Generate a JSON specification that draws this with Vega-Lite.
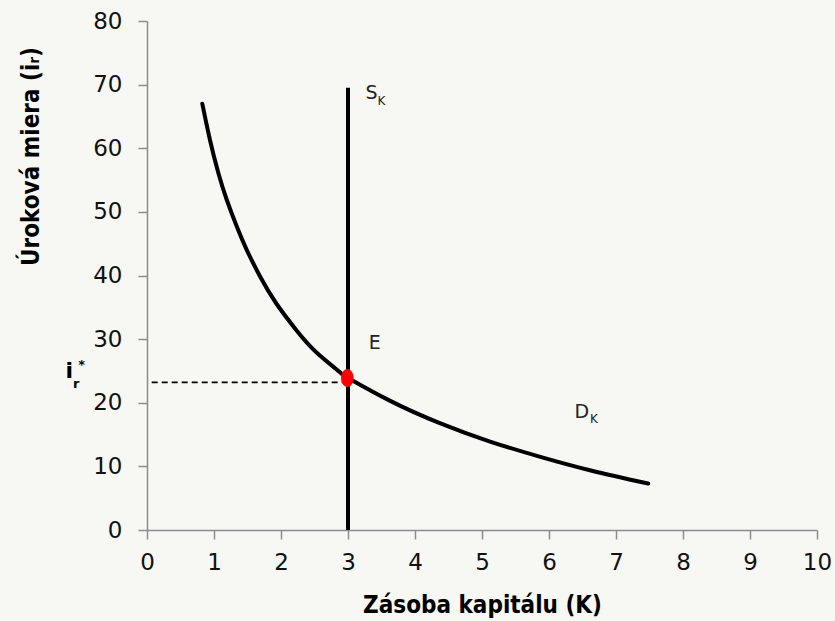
{
  "$schema": "https://vega.github.io/schema/vega-lite/v6.json",
  "width": 670,
  "height": 509,
  "autosize": {"type": "none"},
  "padding": {"left": 147, "top": 21, "right": 18, "bottom": 91},
  "background": "#F7F8F4",
  "config": {
    "view": {"stroke": null},
    "font": "DejaVu Sans",
    "axis": {
      "domainColor": "#8C8C8C",
      "domainWidth": 1.5,
      "tickColor": "#8C8C8C",
      "tickWidth": 1.5,
      "tickSize": 9,
      "grid": false,
      "labelFont": "DejaVu Sans",
      "labelFontWeight": "normal",
      "labelFontSize": 23,
      "labelColor": "#111111",
      "labelOverlap": false,
      "labelFlush": false,
      "titleFont": "DejaVu Sans Condensed",
      "titleFontWeight": "bold",
      "titleColor": "#000000"
    }
  },
  "datasets": {
    "demand": [
      {"K": 0.825, "i": 67.0},
      {"K": 0.94, "i": 61.3},
      {"K": 1.065, "i": 56.1},
      {"K": 1.19, "i": 51.9},
      {"K": 1.34, "i": 47.7},
      {"K": 1.49, "i": 44.0},
      {"K": 1.69, "i": 39.8},
      {"K": 1.93, "i": 35.6},
      {"K": 2.23, "i": 31.4},
      {"K": 2.53, "i": 27.9},
      {"K": 2.88, "i": 24.8},
      {"K": 3.0, "i": 23.9},
      {"K": 3.63, "i": 20.3},
      {"K": 4.37, "i": 16.8},
      {"K": 5.12, "i": 13.9},
      {"K": 5.87, "i": 11.5},
      {"K": 6.61, "i": 9.4},
      {"K": 7.48, "i": 7.3}
    ],
    "supply": [{"K": 3, "i0": 0, "i1": 69.5}],
    "dashed": [{"K0": 0.07, "K1": 3, "i": 23.2}],
    "eq": [{"K": 2.99, "i": 23.9}],
    "bigLabels": [
      {"K": 3.35, "i": 68.7, "t": "S"},
      {"K": 3.40, "i": 29.4, "t": "E"},
      {"K": 6.49, "i": 18.6, "t": "D"}
    ],
    "subLabels": [
      {"K": 3.50, "i": 67.5, "t": "K"},
      {"K": 6.67, "i": 17.4, "t": "K"}
    ],
    "istar": [{"K": -1.16, "i": 25.0, "t": "i"}],
    "istarSub": [{"K": -1.055, "i": 23.0, "t": "r"}],
    "istarSup": [{"K": -0.975, "i": 25.9, "t": "*"}]
  },
  "layer": [
    {
      "data": {"name": "dashed"},
      "mark": {"type": "rule", "color": "#000000", "strokeWidth": 1.6, "strokeDash": [6, 4]},
      "encoding": {
        "x": {"field": "K0", "type": "quantitative", "scale": {"domain": [0, 10], "nice": false},
          "axis": {"values": [0,1,2,3,4,5,6,7,8,9,10], "format": "d", "title": "Zásoba kapitálu (K)", "titleFontSize": 24, "labelPadding": 12, "titleX": 335, "titleY": 75, "titleBaseline": "middle"}},
        "x2": {"field": "K1"},
        "y": {"field": "i", "type": "quantitative", "scale": {"domain": [0, 80], "nice": false},
          "axis": {"values": [0,10,20,30,40,50,60,70,80], "format": "d", "title": "Úroková miera (iᵣ)", "titleFontSize": 24, "labelPadding": 16, "titleX": -116, "titleY": 135, "titleAlign": "center", "titleBaseline": "middle", "titleAngle": -90}}
      }
    },
    {
      "data": {"name": "supply"},
      "mark": {"type": "rule", "color": "#000000", "strokeWidth": 4},
      "encoding": {
        "x": {"field": "K", "type": "quantitative"},
        "y": {"field": "i0", "type": "quantitative"},
        "y2": {"field": "i1"}
      }
    },
    {
      "data": {"name": "demand"},
      "mark": {"type": "line", "color": "#000000", "strokeWidth": 4, "interpolate": "natural", "strokeCap": "round"},
      "encoding": {
        "x": {"field": "K", "type": "quantitative"},
        "y": {"field": "i", "type": "quantitative"}
      }
    },
    {
      "data": {"name": "eq"},
      "mark": {"type": "point", "filled": true, "color": "#FF0000", "opacity": 1, "size": 324,
        "shape": "M-0.7,0A0.7,1 0 1,0 0.7,0A0.7,1 0 1,0 -0.7,0Z"},
      "encoding": {
        "x": {"field": "K", "type": "quantitative"},
        "y": {"field": "i", "type": "quantitative"}
      }
    },
    {
      "data": {"name": "bigLabels"},
      "mark": {"type": "text", "fontSize": 19, "fontWeight": "normal", "color": "#222222", "align": "center", "baseline": "middle"},
      "encoding": {
        "x": {"field": "K", "type": "quantitative"},
        "y": {"field": "i", "type": "quantitative"},
        "text": {"field": "t"}
      }
    },
    {
      "data": {"name": "subLabels"},
      "mark": {"type": "text", "fontSize": 12, "fontWeight": "normal", "color": "#222222", "align": "center", "baseline": "middle"},
      "encoding": {
        "x": {"field": "K", "type": "quantitative"},
        "y": {"field": "i", "type": "quantitative"},
        "text": {"field": "t"}
      }
    },
    {
      "data": {"name": "istar"},
      "mark": {"type": "text", "fontSize": 22, "fontWeight": "bold", "color": "#000000", "align": "center", "baseline": "middle"},
      "encoding": {
        "x": {"field": "K", "type": "quantitative"},
        "y": {"field": "i", "type": "quantitative"},
        "text": {"field": "t"}
      }
    },
    {
      "data": {"name": "istarSub"},
      "mark": {"type": "text", "fontSize": 13, "fontWeight": "bold", "color": "#000000", "align": "center", "baseline": "middle"},
      "encoding": {
        "x": {"field": "K", "type": "quantitative"},
        "y": {"field": "i", "type": "quantitative"},
        "text": {"field": "t"}
      }
    },
    {
      "data": {"name": "istarSup"},
      "mark": {"type": "text", "fontSize": 13, "fontWeight": "bold", "color": "#000000", "align": "center", "baseline": "middle"},
      "encoding": {
        "x": {"field": "K", "type": "quantitative"},
        "y": {"field": "i", "type": "quantitative"},
        "text": {"field": "t"}
      }
    }
  ]
}
